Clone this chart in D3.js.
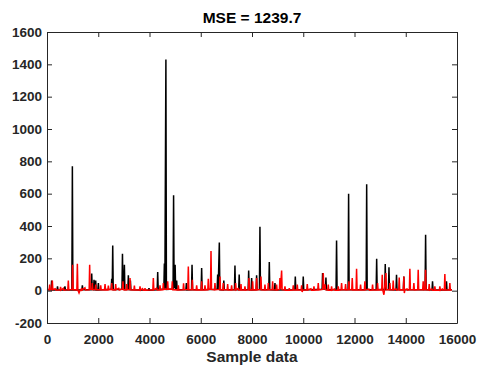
<!DOCTYPE html>
<html>
<head>
<meta charset="utf-8">
<script src="https://cdn.jsdelivr.net/npm/d3@7"></script>
<style>
  body { margin: 0; background: #fff; }
  text { font-family: "Liberation Sans", Arial, Helvetica, sans-serif; font-weight: bold; }
</style>
</head>
<body>
<div id="chart"></div>
<script>
// Chart text and ticks
var titleText = "MSE = 1239.7";
var xLabelText = "Sample data";
var xTicks = [0, 2000, 4000, 6000, 8000, 10000, 12000, 14000, 16000];
var yTicks = [-200, 0, 200, 400, 600, 800, 1000, 1200, 1400, 1600];

// Actual data (black), [sample index, value]
var actualData = [
  [0, 5], [160, 4], [180, 62], [200, 5], [390, 4], [410, 27], [430, 4], [680, 5], [700, 27], [720, 4],
  [970, 6], [990, 770], [1010, 5], [1360, 4], [1380, 33], [1400, 5],
  [1725, 6], [1745, 106], [1765, 8], [1815, 6], [1835, 68], [1855, 7], [1880, 6], [1900, 62], [1920, 5],
  [1985, 6], [2005, 47], [2025, 4], [2505, 8], [2525, 74], [2545, 10], [2565, 280], [2585, 6],
  [2925, 8], [2945, 228], [2965, 12], [2995, 10], [3020, 160], [3040, 6], [3155, 8], [3175, 95], [3195, 7],
  [3235, 6], [3255, 62], [3275, 5], [3960, 3], [3980, 16], [4000, 3], [4300, 5], [4320, 115], [4340, 6],
  [4560, 10], [4580, 168], [4600, 12], [4640, 1430], [4660, 8],
  [4920, 10], [4940, 590], [4960, 15], [5000, 160], [5020, 10], [5060, 62], [5080, 6],
  [5420, 5], [5440, 47], [5460, 5], [5640, 6], [5660, 160], [5680, 6], [6015, 5], [6035, 140], [6055, 6],
  [6640, 8], [6660, 100], [6680, 10], [6725, 298], [6745, 6], [6880, 5], [6900, 62], [6920, 5],
  [7315, 6], [7335, 155], [7355, 5], [7480, 5], [7500, 100], [7520, 6], [7850, 5], [7870, 124], [7890, 6],
  [7966, 5], [7986, 78], [8006, 5], [8160, 6], [8180, 95], [8200, 6], [8290, 8], [8310, 395], [8330, 6],
  [8655, 6], [8675, 177], [8695, 5], [8876, 4], [8896, 47], [8916, 4], [9670, 5], [9690, 88], [9710, 5],
  [9980, 5], [10000, 88], [10020, 4], [10735, 8], [10755, 109], [10775, 10], [10865, 10], [10885, 82], [10905, 6],
  [11280, 5], [11300, 310], [11320, 5], [11750, 6], [11770, 600], [11790, 6], [12455, 6], [12475, 658], [12495, 5],
  [12845, 6], [12865, 197], [12885, 6], [13180, 8], [13200, 165], [13220, 6], [13325, 8], [13345, 144], [13365, 6],
  [13620, 5], [13640, 99], [13660, 5], [13905, 5], [13925, 88], [13945, 5], [14755, 5], [14775, 346], [14795, 5],
  [15025, 4], [15045, 58], [15065, 4], [15570, 4], [15590, 58], [15610, 4], [15800, 5]
];

// Predicted data (red), [sample index, value]
var predictedData = [
  [0, 8], [84, 6], [104, 37], [124, 5], [188, 10], [208, 62], [228, 6], [320, 12], [340, 4], [510, 5], [530, 23], [550, 4],
  [640, 15], [660, 3], [812, 6], [832, 62], [852, 5], [980, 8], [1000, 160], [1020, 6], [1165, 5], [1185, 167], [1205, 4],
  [1250, -14], [1290, 3], [1330, 4], [1350, 16], [1370, 3], [1480, 18], [1500, 4], [1645, 6], [1665, 160], [1685, 8],
  [1750, 10], [1770, 47], [1790, 6], [1880, 8], [1900, 37], [1920, 5], [2075, 5], [2095, 33], [2115, 6],
  [2245, 5], [2265, 41], [2285, 6], [2375, 5], [2395, 31], [2415, 6], [2505, 8], [2525, 47], [2545, 6],
  [2660, 5], [2680, 41], [2700, 6], [2800, 14], [2820, 4], [2945, 10], [2965, 58], [2985, 6], [3090, 5], [3110, 41], [3130, 6],
  [3220, 8], [3240, 78], [3260, 5], [3390, 4], [3410, 31], [3430, 4], [3610, 4], [3630, 27], [3650, 3], [3730, 12], [3750, 3],
  [3805, 3], [3825, 16], [3845, 3], [4130, 6], [4150, 78], [4170, 5], [4280, 15], [4300, 4], [4390, 5], [4410, 33], [4430, 5],
  [4520, 6], [4540, 47], [4560, 8], [4690, 10], [4710, 58], [4730, 8], [4870, 8], [4890, 58], [4910, 6],
  [5105, 5], [5125, 33], [5145, 4], [5310, 5], [5330, 45], [5350, 6], [5495, 8], [5515, 150], [5535, 6],
  [5650, 6], [5670, 68], [5690, 5], [5820, 4], [5840, 33], [5860, 5], [6015, 6], [6035, 58], [6055, 5],
  [6145, 4], [6165, 33], [6185, 5], [6275, 6], [6295, 74], [6315, 8], [6380, 10], [6400, 245], [6420, 8],
  [6535, 5], [6555, 47], [6575, 6], [6730, 8], [6750, 88], [6770, 6], [6860, 5], [6880, 47], [6900, 5],
  [7030, 5], [7050, 41], [7070, 4], [7185, 5], [7205, 33], [7225, 4], [7340, 6], [7360, 47], [7380, 5],
  [7460, 14], [7480, 4], [7550, 5], [7570, 41], [7590, 4], [7705, 4], [7725, 27], [7745, 3], [7860, 6], [7880, 78], [7900, 5],
  [8005, 6], [8025, 58], [8045, 5], [8160, 6], [8180, 78], [8200, 5], [8330, 8], [8350, 88], [8370, 5],
  [8486, 4], [8506, 37], [8526, 4], [8616, 5], [8636, 47], [8656, 5], [8785, 5], [8805, 58], [8825, 5],
  [8940, 4], [8960, 37], [8980, 4], [9070, 8], [9090, 78], [9110, 10], [9156, 124], [9176, 6],
  [9266, 4], [9286, 27], [9306, 3], [9435, 3], [9455, 16], [9475, 3], [9591, 4], [9611, 33], [9631, 4],
  [9747, 4], [9767, 37], [9787, 4], [9916, 4], [9936, 33], [9956, -8], [9980, 4], [10137, 5], [10157, 41], [10177, 4],
  [10300, 12], [10320, 3], [10398, 3], [10418, 27], [10438, 3], [10566, 5], [10586, 47], [10606, 5],
  [10761, 8], [10781, 109], [10801, 10], [10850, 40], [10870, 6], [10956, 4], [10976, 37], [10996, 4],
  [11086, 3], [11106, 27], [11126, 3], [11220, 10], [11240, 3], [11346, 3], [11366, 27], [11386, 3],
  [11476, 5], [11496, 47], [11516, 5], [11632, 5], [11652, 41], [11672, 5], [11762, 6], [11782, 58], [11802, 6],
  [11892, 6], [11912, 78], [11932, 5], [12061, 6], [12081, 136], [12101, 5], [12217, 4], [12237, 37], [12257, 4],
  [12386, 5], [12406, 58], [12426, 5], [12560, 10], [12580, 3], [12685, 4], [12705, 37], [12725, 4],
  [12880, 5], [12900, 47], [12920, 5], [13062, 6], [13082, 99], [13102, 5], [13147, -25], [13170, 5], [13226, 109], [13246, 5],
  [13361, 5], [13381, 47], [13401, 5], [13491, 5], [13511, 62], [13531, 5], [13620, 12], [13640, 3],
  [13725, 6], [13745, 82], [13765, 5], [13907, 6], [13927, 88], [13945, -15], [13965, 5], [14050, 10], [14070, 3],
  [14141, 6], [14161, 136], [14181, 5], [14297, 5], [14317, 47], [14337, 5], [14466, 6], [14486, 130], [14506, 5],
  [14661, 5], [14681, 58], [14701, 5], [14752, 6], [14772, 130], [14792, 5], [14895, 4], [14915, 41], [14935, 4],
  [15020, 10], [15040, 3], [15116, 3], [15136, 27], [15156, 3], [15311, 3], [15331, 27], [15351, 3],
  [15430, 10], [15450, 3], [15506, 5], [15526, 103], [15546, 5], [15701, 4], [15721, 47], [15741, 4], [15800, 6]
];

// Dimensions and margins
var margin = { top: 32, right: 25, bottom: 51, left: 47 },
    width = 482 - margin.left - margin.right,
    height = 374 - margin.top - margin.bottom;

var svg = d3.select("#chart")
    .append("svg")
    .attr("width", 482)
    .attr("height", 374)
    .append("g")
    .attr("transform", "translate(" + margin.left + "," + margin.top + ")");

var x = d3.scaleLinear().domain([0, 16000]).range([0, width]);
var y = d3.scaleLinear().domain([-200, 1600]).range([height, 0]);

var axisColor = "#262626";
var fmt = function (d) { return String(d); };

// Lines
var line = d3.line()
    .x(function (d) { return x(d[0]); })
    .y(function (d) { return y(d[1]); });

svg.append("path")
    .datum(actualData)
    .attr("fill", "none")
    .attr("stroke", "#000")
    .attr("stroke-width", 1.5)
    .attr("stroke-linejoin", "miter")
    .attr("d", line);

svg.append("path")
    .datum(predictedData)
    .attr("fill", "none")
    .attr("stroke", "#ff0000")
    .attr("stroke-width", 1.5)
    .attr("d", line);

// Axes (ticks pointing inward, box on all sides)
function styleAxis(g) {
    g.selectAll("path").attr("stroke", axisColor);
    g.selectAll("line").attr("stroke", axisColor);
    g.selectAll("text").attr("fill", axisColor).style("font-size", "13.5px");
}

svg.append("g")
    .attr("transform", "translate(0," + height + ")")
    .call(d3.axisBottom(x).tickValues(xTicks).tickFormat(fmt).tickSizeInner(-5).tickSizeOuter(0).tickPadding(11))
    .call(styleAxis);

svg.append("g")
    .call(d3.axisTop(x).tickValues(xTicks).tickFormat("").tickSizeInner(-5).tickSizeOuter(0))
    .call(styleAxis);

svg.append("g")
    .call(d3.axisLeft(y).tickValues(yTicks).tickFormat(fmt).tickSizeInner(-5).tickSizeOuter(0).tickPadding(5))
    .call(styleAxis);

svg.append("g")
    .attr("transform", "translate(" + width + ",0)")
    .call(d3.axisRight(y).tickValues(yTicks).tickFormat("").tickSizeInner(-5).tickSizeOuter(0))
    .call(styleAxis);

// Title and x label
svg.append("text")
    .attr("x", width / 2)
    .attr("y", -9)
    .attr("text-anchor", "middle")
    .attr("fill", "#000")
    .style("font-size", "15.5px")
    .text(titleText);

svg.append("text")
    .attr("x", width / 2)
    .attr("y", height + 39)
    .attr("text-anchor", "middle")
    .attr("fill", axisColor)
    .style("font-size", "15.5px")
    .text(xLabelText);
</script>
</body>
</html>
